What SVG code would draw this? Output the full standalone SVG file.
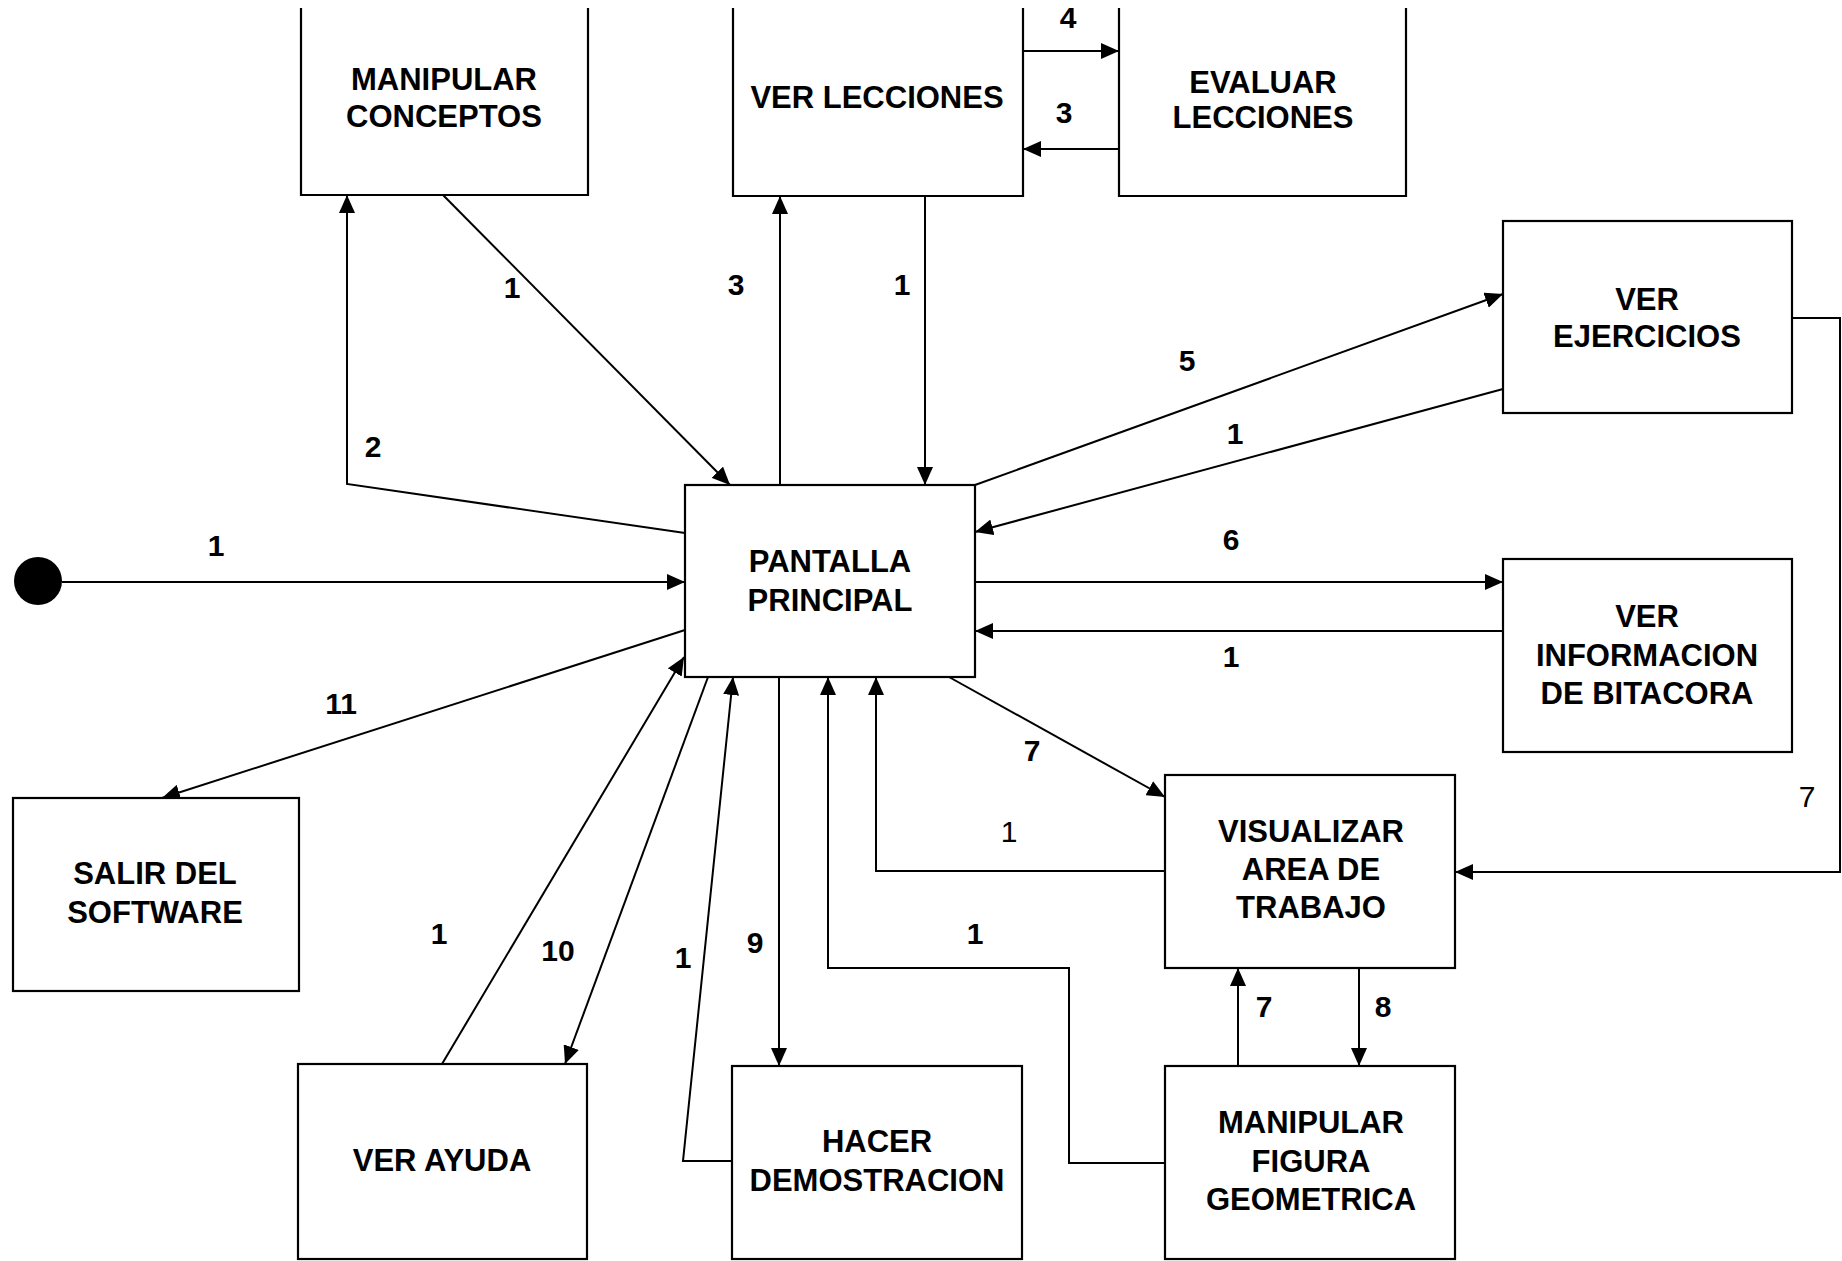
<svg xmlns="http://www.w3.org/2000/svg" width="1842" height="1261" viewBox="0 0 1842 1261">
<style>
.box{fill:#fff;stroke:#000;stroke-width:2.2}
.open{fill:none;stroke:#000;stroke-width:2.2}
.t{font-family:"Liberation Sans",Arial,sans-serif;font-weight:bold;font-size:31px;fill:#000;text-anchor:middle}
.c{fill:none;stroke:#000;stroke-width:2;marker-end:url(#ah)}
.cn{fill:none;stroke:#000;stroke-width:2}
.l{font-family:"Liberation Sans",Arial,sans-serif;font-weight:bold;font-size:30px;fill:#000;text-anchor:middle}
.lr{font-family:"Liberation Sans",Arial,sans-serif;font-weight:normal;font-size:30px;fill:#000;text-anchor:middle}
</style>
<defs>
<marker id="ah" markerUnits="userSpaceOnUse" markerWidth="18" markerHeight="16" refX="18" refY="8" orient="auto">
<path d="M0,0 L18,8 L0,16 Z" fill="#000"/>
</marker>
</defs>
<rect width="1842" height="1261" fill="#fff"/>

<g id="connectors">
<circle cx="38" cy="581" r="24" fill="#000"/>
<path class="c" d="M62,582 L685,582"/>
<path class="c" d="M685,533 L347,484 L347,195"/>
<path class="c" d="M443,195 L730,485"/>
<path class="c" d="M780,485 L780,196"/>
<path class="c" d="M925,196 L925,485"/>
<path class="c" d="M1023,51 L1119,51"/>
<path class="c" d="M1119,149 L1023,149"/>
<path class="c" d="M975,485 L1503,294"/>
<path class="c" d="M1503,389 L975,532"/>
<path class="c" d="M975,582 L1503,582"/>
<path class="c" d="M1503,631 L975,631"/>
<path class="c" d="M1792,318 L1840,318 L1840,872 L1455,872"/>
<path class="c" d="M685,630 L162,798"/>
<path class="c" d="M442,1064 L684,657"/>
<path class="c" d="M708,677 L565,1064"/>
<path class="c" d="M732,1161 L683,1161 L733,677"/>
<path class="c" d="M779,677 L779,1066"/>
<path class="c" d="M1165,1163 L1069,1163 L1069,968 L828,968 L828,677"/>
<path class="c" d="M1165,871 L876,871 L876,677"/>
<path class="c" d="M949,677 L1165,797"/>
<path class="c" d="M1238,1066 L1238,968"/>
<path class="c" d="M1359,968 L1359,1066"/>
<text class="l" x="216" y="556">1</text>
<text class="l" x="373" y="457">2</text>
<text class="l" x="512" y="298">1</text>
<text class="l" x="736" y="295">3</text>
<text class="l" x="902" y="295">1</text>
<text class="l" x="1068" y="28">4</text>
<text class="l" x="1064" y="123">3</text>
<text class="l" x="1187" y="371">5</text>
<text class="l" x="1235" y="444">1</text>
<text class="l" x="1231" y="550">6</text>
<text class="l" x="1231" y="667">1</text>
<text class="l" x="341" y="714">11</text>
<text class="l" x="1032" y="761">7</text>
<text class="lr" x="1009" y="842">1</text>
<text class="lr" x="1807" y="807">7</text>
<text class="l" x="439" y="944">1</text>
<text class="l" x="558" y="961">10</text>
<text class="l" x="683" y="968">1</text>
<text class="l" x="755" y="953">9</text>
<text class="l" x="975" y="944">1</text>
<text class="l" x="1264" y="1017">7</text>
<text class="l" x="1383" y="1017">8</text>
</g>

<g id="manipular-conceptos">
<path class="open" d="M301,8 L301,195 L588,195 L588,8"/>
<text class="t" x="444" y="90">MANIPULAR</text>
<text class="t" x="444" y="127">CONCEPTOS</text>
</g>
<g id="ver-lecciones">
<path class="open" d="M733,8 L733,196 L1023,196 L1023,8"/>
<text class="t" x="877" y="108">VER LECCIONES</text>
</g>
<g id="evaluar-lecciones">
<path class="open" d="M1119,8 L1119,196 L1406,196 L1406,8"/>
<text class="t" x="1263" y="93">EVALUAR</text>
<text class="t" x="1263" y="128">LECCIONES</text>
</g>
<g id="ver-ejercicios">
<rect class="box" x="1503" y="221" width="289" height="192"/>
<text class="t" x="1647" y="310">VER</text>
<text class="t" x="1647" y="347">EJERCICIOS</text>
</g>
<g id="pantalla-principal">
<rect class="box" x="685" y="485" width="290" height="192"/>
<text class="t" x="830" y="572">PANTALLA</text>
<text class="t" x="830" y="611">PRINCIPAL</text>
</g>
<g id="ver-informacion-bitacora">
<rect class="box" x="1503" y="559" width="289" height="193"/>
<text class="t" x="1647" y="627">VER</text>
<text class="t" x="1647" y="666">INFORMACION</text>
<text class="t" x="1647" y="704">DE BITACORA</text>
</g>
<g id="salir-del-software">
<rect class="box" x="13" y="798" width="286" height="193"/>
<text class="t" x="155" y="884">SALIR DEL</text>
<text class="t" x="155" y="923">SOFTWARE</text>
</g>
<g id="visualizar-area-trabajo">
<rect class="box" x="1165" y="775" width="290" height="193"/>
<text class="t" x="1311" y="842">VISUALIZAR</text>
<text class="t" x="1311" y="880">AREA DE</text>
<text class="t" x="1311" y="918">TRABAJO</text>
</g>
<g id="ver-ayuda">
<rect class="box" x="298" y="1064" width="289" height="195"/>
<text class="t" x="442" y="1171">VER AYUDA</text>
</g>
<g id="hacer-demostracion">
<rect class="box" x="732" y="1066" width="290" height="193"/>
<text class="t" x="877" y="1152">HACER</text>
<text class="t" x="877" y="1191">DEMOSTRACION</text>
</g>
<g id="manipular-figura-geometrica">
<rect class="box" x="1165" y="1066" width="290" height="193"/>
<text class="t" x="1311" y="1133">MANIPULAR</text>
<text class="t" x="1311" y="1172">FIGURA</text>
<text class="t" x="1311" y="1210">GEOMETRICA</text>
</g>
</svg>
